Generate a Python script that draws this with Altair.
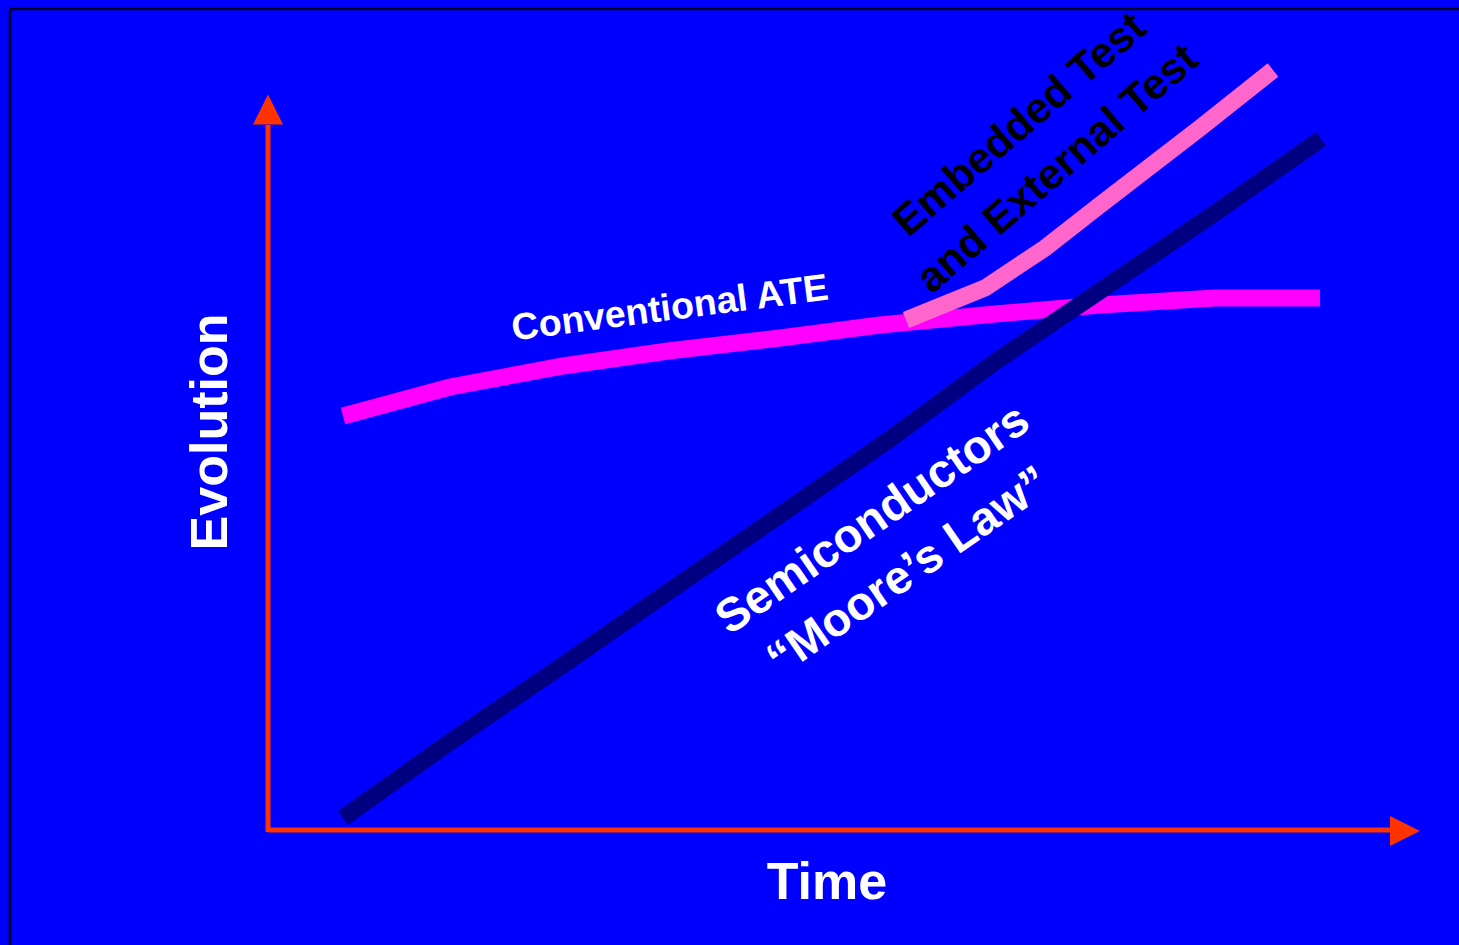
import altair as alt
import pandas as pd

W, H = 1459, 945

# Time / evolution coordinates of each curve (arbitrary units, origin at the axes corner)
ate_time = [75, 182, 295, 400, 512, 612, 727, 832, 947, 1052]
ate_evol = [414, 443, 464, 479, 492, 505, 516, 525, 532, 532]

moore_time = [75, 182, 295, 400, 512, 622, 727, 832, 947, 1053]
moore_evol = [12, 88, 165, 238, 315, 391, 468, 539, 617, 691]

embedded_time = [638, 717, 777, 832, 932, 1005]
embedded_evol = [510, 542, 582, 625, 702, 760]

# Extent of the drawn axes
time_axis_end = 1122
evol_axis_end = 705

x_scale = alt.Scale(domain=[-268, W - 268], range=[0, W], nice=False, zero=False)
y_scale = alt.Scale(domain=[-(H - 830), 830], range=[H, 0], nice=False, zero=False)

BLUE = "#0000FF"
AXIS_RED = "#FF3300"
FONT = "Liberation Sans"


def curve(times, evols, color):
    df = pd.DataFrame({"t": times, "e": evols, "i": range(len(times))})
    return alt.Chart(df).mark_line(
        color=color, strokeWidth=17, strokeCap="butt", strokeJoin="miter", clip=False
    ).encode(
        x=alt.X("t:Q", scale=x_scale, axis=None),
        y=alt.Y("e:Q", scale=y_scale, axis=None),
        order="i:O",
    )


ate = curve(ate_time, ate_evol, "#FF00FF")
embedded = curve(embedded_time, embedded_evol, "#FF66CC")
moore = curve(moore_time, moore_evol, "#000080")

# Axes drawn as arrows
v_axis = alt.Chart(pd.DataFrame({"t": [0], "e": [-2], "e2": [evol_axis_end]})).mark_rule(
    color=AXIS_RED, strokeWidth=5, strokeCap="butt"
).encode(
    x=alt.X("t:Q", scale=x_scale, axis=None),
    y=alt.Y("e:Q", scale=y_scale, axis=None),
    y2="e2:Q",
)
h_axis = alt.Chart(pd.DataFrame({"e": [0], "t": [0], "t2": [time_axis_end]})).mark_rule(
    color=AXIS_RED, strokeWidth=5, strokeCap="butt"
).encode(
    y=alt.Y("e:Q", scale=y_scale, axis=None),
    x=alt.X("t:Q", scale=x_scale, axis=None),
    x2="t2:Q",
)
up_arrow = alt.Chart(pd.DataFrame({"t": [0], "e": [evol_axis_end + 15.5]})).mark_point(
    shape="M0,-1L-1,1L1,1Z", size=900, filled=True, color=AXIS_RED, opacity=1, strokeWidth=0
).encode(
    x=alt.X("t:Q", scale=x_scale, axis=None),
    y=alt.Y("e:Q", scale=y_scale, axis=None),
)
right_arrow = alt.Chart(pd.DataFrame({"t": [time_axis_end + 15], "e": [-1]})).mark_point(
    shape="M1,0L-1,-1L-1,1Z", size=900, filled=True, color=AXIS_RED, opacity=1, strokeWidth=0
).encode(
    x=alt.X("t:Q", scale=x_scale, axis=None),
    y=alt.Y("e:Q", scale=y_scale, axis=None),
)

# Slide frame (top and left edges)
frame_top = alt.Chart(pd.DataFrame({"e": [821], "t": [-259], "t2": [W]})).mark_rule(
    color="#000022", strokeWidth=2.5
).encode(
    y=alt.Y("e:Q", scale=y_scale, axis=None),
    x=alt.X("t:Q", scale=x_scale, axis=None),
    x2="t2:Q",
)
frame_left = alt.Chart(pd.DataFrame({"t": [-258], "e": [821], "e2": [-200]})).mark_rule(
    color="#000022", strokeWidth=2.5
).encode(
    x=alt.X("t:Q", scale=x_scale, axis=None),
    y=alt.Y("e:Q", scale=y_scale, axis=None),
    y2="e2:Q",
)


def label(text, t, e, size, angle, color, line_height=None):
    kw = dict(
        font=FONT, fontWeight="bold", fontSize=size, color=color,
        align="center", baseline="middle", angle=angle, lineBreak="\n",
    )
    if line_height:
        kw["lineHeight"] = line_height
    return alt.Chart(pd.DataFrame({"t": [t], "e": [e], "txt": [text]})).mark_text(**kw).encode(
        x=alt.X("t:Q", scale=x_scale, axis=None),
        y=alt.Y("e:Q", scale=y_scale, axis=None),
        text="txt:N",
    )


lbl_evolution = label("Evolution", -57, 398, 52, 270, "#FFFFFF")
lbl_time = label("Time", 559, -53, 52, 0, "#FFFFFF")
lbl_ate = label("Conventional ATE", 402, 521, 37.5, 352.6, "#FFFFFF")
lbl_embedded = label("Embedded Test\nand External Test", 752, 705, 43, 319.3, "#000000", 58)
lbl_moore = label("Semiconductors\n\u201cMoore\u2019s Law\u201d", 605, 310, 47, 325.5, "#FFFFFF", 63)

chart = alt.layer(
    frame_top, frame_left,
    ate, embedded, moore,
    v_axis, h_axis, up_arrow, right_arrow,
    lbl_evolution, lbl_time, lbl_ate, lbl_embedded, lbl_moore,
).properties(
    width=W, height=H, background=BLUE, padding=0,
    autosize=alt.AutoSizeParams(type="none"),
).configure_view(strokeWidth=0, fill=BLUE)

chart.save("out.html", embed_options={"renderer": "svg", "actions": False})
